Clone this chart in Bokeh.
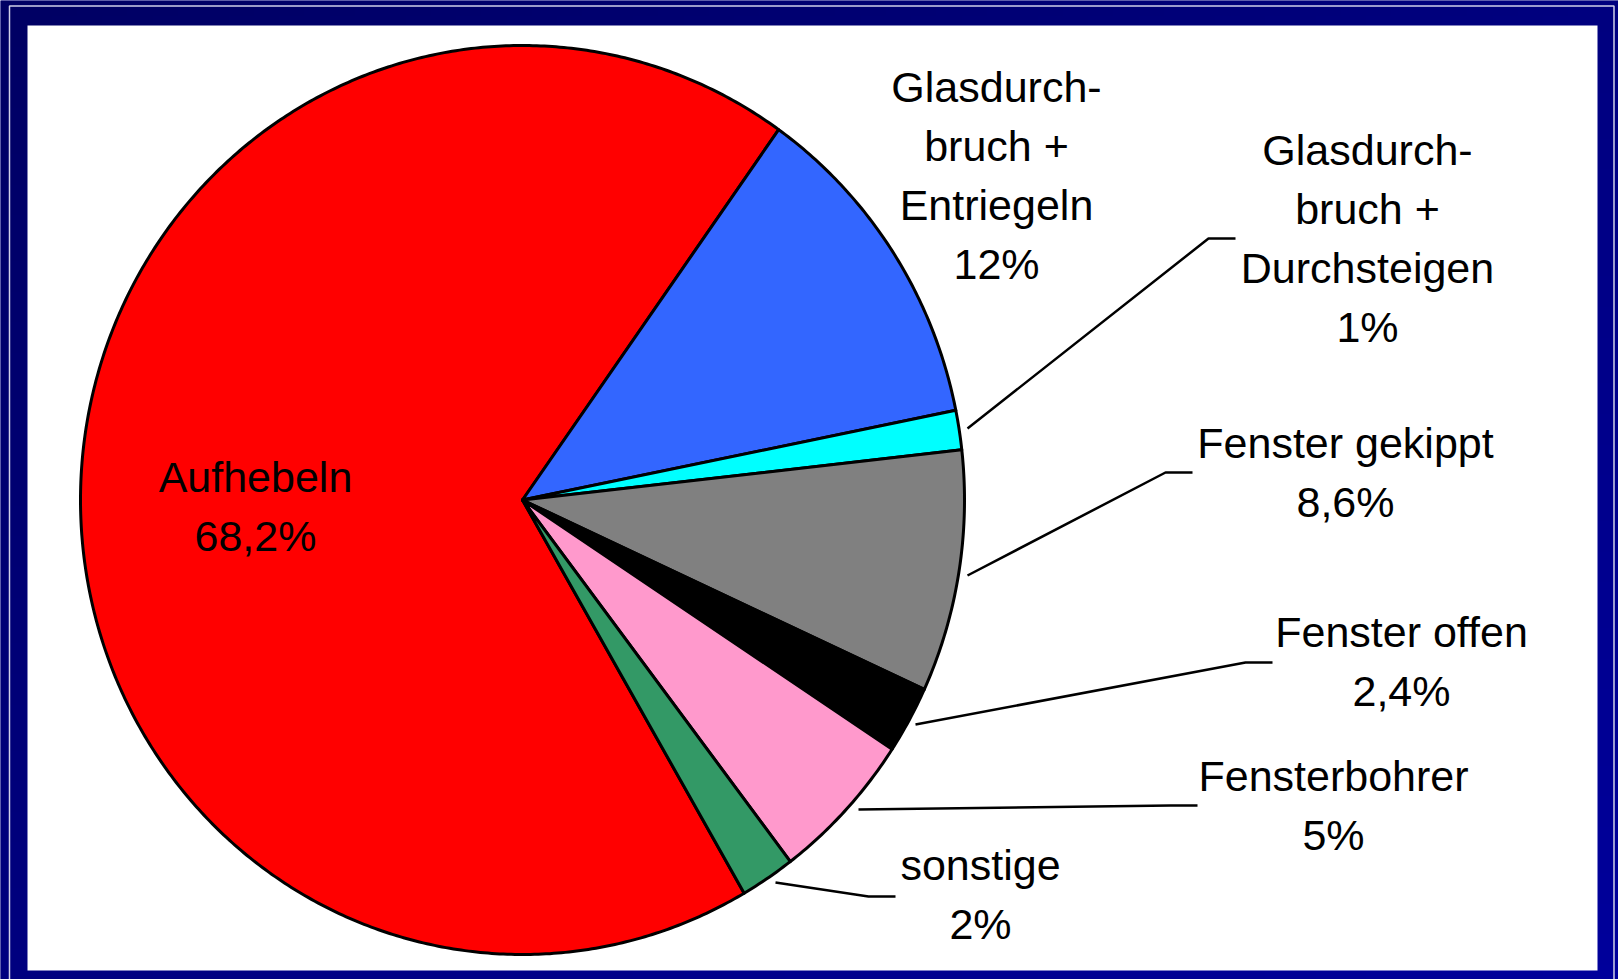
import numpy as np
from bokeh.plotting import figure
from bokeh.models import Range1d
from bokeh.embed import file_html
from bokeh.resources import INLINE
from bokeh.core.properties import value

# ---- data (clockwise order, starting with the red slice) ----
categories = ["Aufhebeln", "Glasdurchbruch + Entriegeln", "Glasdurchbruch + Durchsteigen",
              "Fenster gekippt", "Fenster offen", "Fensterbohrer", "sonstige"]
shares = [68.2, 12.0, 1.4, 8.6, 2.4, 5.4, 2.0]
pct_labels = ["68,2%", "12%", "1%", "8,6%", "2,4%", "5%", "2%"]
label_lines = [["Aufhebeln"],
               ["Glasdurch-", "bruch +", "Entriegeln"],
               ["Glasdurch-", "bruch +", "Durchsteigen"],
               ["Fenster gekippt"],
               ["Fenster offen"],
               ["Fensterbohrer"],
               ["sonstige"]]
colors = ["#FF0000", "#3366FF", "#00FFFF", "#808080", "#000000", "#FF99CC", "#339966"]

# ---- layout (page pixel coordinates) ----
W, H = 1618, 979
X0, Y0 = 0, 0
CX, CY, RX, RY = 522, 499.5, 442, 454.5
FIRST_SLICE_DEG = -210.1
FONT = value("Liberation Sans")
FSIZE = "43px"
LINE_STEP = 59
TEXT_SHIFT = -16

label_pos = [(255, 492), (996, 102), (1367, 165), (1345, 458), (1401, 647), (1333, 791), (980, 880)]
leaders = [None,
           None,
           [(967, 428), (1208, 238), (1235, 238)],
           [(967, 575), (1165, 472), (1192, 472)],
           [(915, 724), (1245, 662), (1272, 662)],
           [(858, 809), (1170, 805), (1197, 805)],
           [(775, 882), (868, 896), (895, 896)]]

p = figure(width=W, height=H, x_range=Range1d(X0, X0 + W), y_range=Range1d(Y0 + H, Y0),
           output_backend="svg", toolbar_location=None, min_border=0,
           x_axis_location=None, y_axis_location=None)
p.grid.visible = False
p.outline_line_color = None
p.background_fill_color = "#000080"
p.border_fill_color = "#000080"

# navy gradient frame
ny, nx = 64, 64
u = np.linspace(0, 1, nx)[None, :]
v = np.linspace(0, 1, ny)[:, None]
t = (u + v) / 2.0
img = np.empty((ny, nx), dtype=np.uint32)
view = img.view(dtype=np.uint8).reshape((ny, nx, 4))
view[..., 0] = 0
view[..., 1] = 0
view[..., 2] = (100 + 55 * t).astype(np.uint8)
view[..., 3] = 255
p.image_rgba(image=[img], x=X0, y=Y0, dw=W, dh=H)

# thin light bevel line
p.line([9, 9, 1613.5, 1613.5], [985, 5.5, 5.5, 985], line_color="#D0D0E8", line_width=1.5)

# white panel
p.quad(left=27, right=1597, top=25, bottom=970, fill_color="white", line_color=None)

# pie slices (elliptical)
vals = np.array(shares, dtype=float)
edges = FIRST_SLICE_DEG + np.concatenate([[0], np.cumsum(vals)]) / vals.sum() * 360.0
xs, ys = [], []
for a0, a1 in zip(edges[:-1], edges[1:]):
    th = np.radians(np.linspace(a0, a1, max(8, int((a1 - a0) * 2))))
    xs.append([CX] + list(CX + RX * np.sin(th)) + [CX])
    ys.append([CY] + list(CY - RY * np.cos(th)) + [CY])
p.patches(xs, ys, fill_color=colors, line_color="black", line_width=3, line_join="round")

# leader lines
lx = [[pt[0] for pt in l] for l in leaders if l]
ly = [[pt[1] for pt in l] for l in leaders if l]
p.multi_line(lx, ly, line_color="black", line_width=2.5)

# labels
tx, ty, tt = [], [], []
for (x, y), lines, pct in zip(label_pos, label_lines, pct_labels):
    for k, s in enumerate(lines + [pct]):
        tx.append(x)
        ty.append(y + TEXT_SHIFT + k * LINE_STEP)
        tt.append(s)
p.text(x=tx, y=ty, text=tt, text_font=FONT, text_font_size=FSIZE,
       text_align="center", text_baseline="alphabetic", text_color="black")

open("out.html", "w").write(file_html(p, INLINE))
